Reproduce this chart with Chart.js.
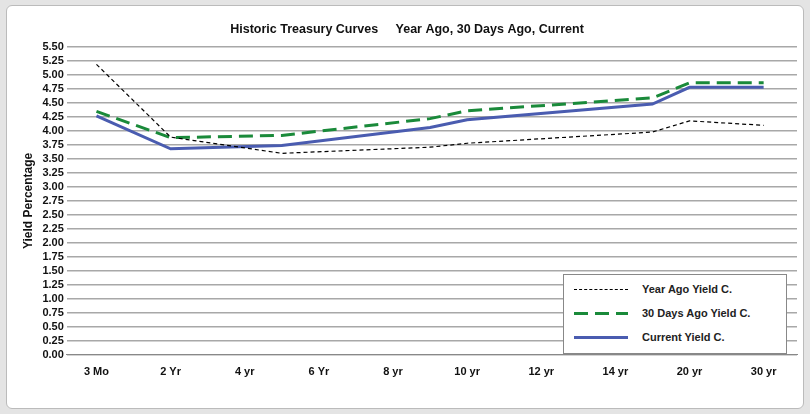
<!DOCTYPE html>
<html><head><meta charset="utf-8">
<script src="https://cdn.jsdelivr.net/npm/chart.js@4"></script>
<style>
body{margin:0;background:#e4e4e4;font-family:"Liberation Sans",Arial,sans-serif}
#panel{position:absolute;left:6px;top:5px;width:796px;height:402px;background:#fff;border:1px solid #bbb;border-radius:6px}
#wrap{position:absolute;left:0;top:0;width:796px;height:402px}
#legend{position:absolute;left:556px;top:268px;width:222px;height:78px;border:1px solid #888;background:#fff;font-size:11px;font-weight:bold;color:#222}
.row{position:absolute;left:10px;height:14px;display:flex;align-items:center}
.row span{display:inline-block;width:54px;margin-right:14px}
</style></head><body>
<div id="panel"><div id="wrap"><canvas id="c"></canvas></div>
<div id="legend">
 <div class="row" style="top:7px"><span style="border-top:1.5px dashed #000"></span>Year Ago Yield C.</div>
 <div class="row" style="top:31px"><span style="height:3px;background:repeating-linear-gradient(90deg,#1a8a3a 0 14px,transparent 14px 21px)"></span>30 Days Ago Yield C.</div>
 <div class="row" style="top:55px"><span style="border-top:3px solid #4a5cb0"></span>Current Yield C.</div>
</div></div>
<script>
// x positions are slots on the maturity axis (0 = 3 Mo, 1 = 2 Yr, ... 9 = 30 yr)
const TICK_LABELS = ['3 Mo','2 Yr','4 yr','6 Yr','8 yr','10 yr','12 yr','14 yr','20 yr','30 yr'];
const SLOTS     = [0, 1, 2.5, 4.5, 5, 7.5, 8, 9];
const YEAR_AGO  = [5.19, 3.89, 3.60, 3.71, 3.78, 3.98, 4.18, 4.10];
const DAYS_30   = [4.35, 3.88, 3.92, 4.22, 4.36, 4.59, 4.86, 4.86];
const CURRENT   = [4.27, 3.68, 3.74, 4.06, 4.20, 4.48, 4.78, 4.78];

const pts = (arr) => arr.map((y, i) => ({ x: SLOTS[i], y }));
const font = { family: 'Liberation Sans', size: 11, weight: 'bold' };

new Chart(document.getElementById('c'), {
  type: 'line',
  data: {
    datasets: [
      { label: 'Year Ago Yield C.', data: pts(YEAR_AGO), borderColor: '#000', borderWidth: 1.2, borderDash: [4, 3], pointRadius: 0, tension: 0 },
      { label: '30 Days Ago Yield C.', data: pts(DAYS_30), borderColor: '#1a8a3a', borderWidth: 3, borderDash: [14, 7], pointRadius: 0, tension: 0 },
      { label: 'Current Yield C.', data: pts(CURRENT), borderColor: '#4a5cb0', borderWidth: 3, pointRadius: 0, tension: 0 },
    ],
  },
  options: {
    responsive: true, maintainAspectRatio: false, animation: false,
    layout: { padding: { left: 10, right: 6, top: 6, bottom: 26 } },
    plugins: {
      legend: { display: false },
      title: { display: true, text: 'Historic Treasury Curves     Year Ago, 30 Days Ago, Current', color: '#111', font: { family: 'Liberation Sans', size: 12.5, weight: 'bold' }, padding: { top: 10, bottom: 10 } },
    },
    scales: {
      x: {
        type: 'linear', min: -0.4, max: 9.45,
        afterBuildTicks: (s) => { s.ticks = TICK_LABELS.map((_, i) => ({ value: i })); },
        ticks: { color: '#111', font, callback: (v) => TICK_LABELS[v], maxRotation: 0, autoSkip: false },
        grid: { display: false },
        border: { color: '#888' },
      },
      y: {
        min: 0, max: 5.5,
        ticks: { stepSize: 0.25, color: '#111', font, callback: (v) => v.toFixed(2), autoSkip: false },
        grid: { color: '#a8a8a8', lineWidth: 1.5, drawTicks: false },
        border: { display: false },
        title: { display: true, text: 'Yield Percentage', color: '#111', font: { family: 'Liberation Sans', size: 12, weight: 'bold' } },
      },
    },
  },
});
</script></body></html>
